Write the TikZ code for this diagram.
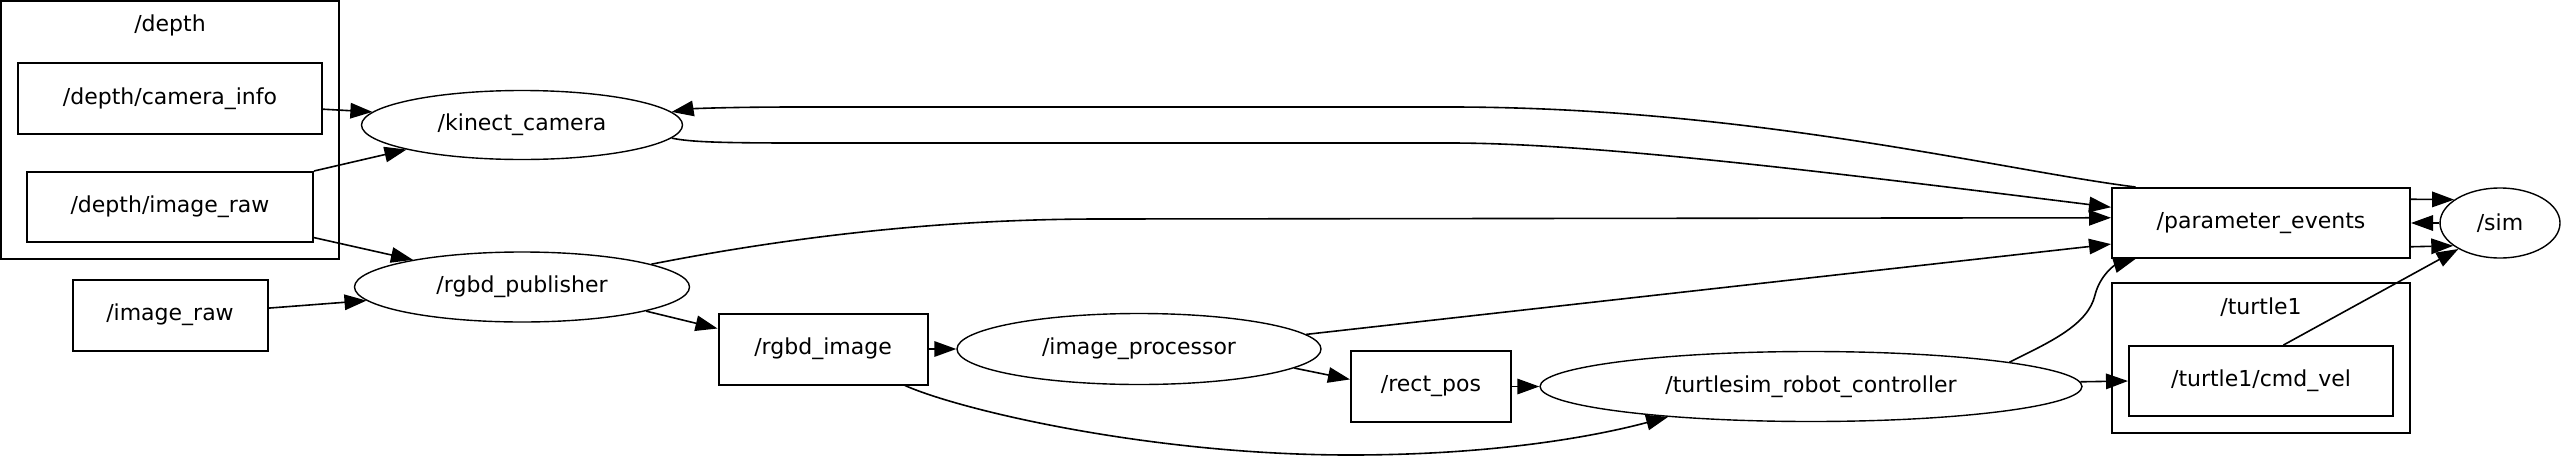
\documentclass[tikz,border=0pt]{standalone}
\usepackage{fontspec}
\setmainfont{DejaVu Sans}
\usetikzlibrary{arrows.meta,shapes.geometric}

\tikzset{
    topicbox/.style={draw, rectangle, line width=2pt, inner sep=0pt},
    rosnode/.style={draw, ellipse, line width=1.4pt, inner sep=0pt},
    cluster/.style={draw, rectangle, line width=2pt, inner sep=0pt},
    link/.style={line width=1.6pt, arrows={-Triangle[length=22pt,width=15.5pt]}},
}

\begin{document}
\begin{tikzpicture}[x=1pt,y=-1pt,font=\fontsize{22}{26}\selectfont]
                    \useasboundingbox (0,0) rectangle (2562,464);
%                    groups
                    \node[cluster, minimum width=338pt, minimum height=258pt] (depth) at (170,130) {};
                    \node (depthlbl) at (170,25) {/depth};
                    \node[cluster, minimum width=298pt, minimum height=150pt] (turtle) at (2261,358) {};
                    \node (turtlelbl) at (2261,307) {/turtle1};

%                    topics
                    \node[topicbox, minimum width=304pt, minimum height=71pt] (caminfo) at (170,98.5) {/depth/camera\_info};
                    \node[topicbox, minimum width=286pt, minimum height=70pt] (dimg) at (170,207) {/depth/image\_raw};
                    \node[topicbox, minimum width=195pt, minimum height=71pt] (iraw) at (170,315) {/image\_raw};
                    \node[topicbox, minimum width=209pt, minimum height=71pt] (rimg) at (823,349) {/rgbd\_image};
                    \node[topicbox, minimum width=160pt, minimum height=71pt] (rpos) at (1431,386.5) {/rect\_pos};
                    \node[topicbox, minimum width=298pt, minimum height=70pt] (pe) at (2261,223) {/parameter\_events};
                    \node[topicbox, minimum width=264pt, minimum height=70pt] (cmd) at (2261,381) {/turtle1/cmd\_vel};

%                    nodes
                    \node[rosnode, minimum width=321pt, minimum height=69pt] (kc) at (522,125) {/kinect\_camera};
                    \node[rosnode, minimum width=335pt, minimum height=70pt] (rp) at (522,287) {/rgbd\_publisher};
                    \node[rosnode, minimum width=364pt, minimum height=71pt] (ip) at (1139,349) {/image\_processor};
                    \node[rosnode, minimum width=542pt, minimum height=70pt] (ts) at (1811,386.5) {/turtlesim\_robot\_controller};
                    \node[rosnode, minimum width=120pt, minimum height=70pt] (sim) at (2500,223) {/sim};

%                    left side
                    \draw[link] (caminfo.-4) -- (kc.175);
                    \draw[link] (dimg.north east) -- (kc.-168.4);
                    \draw[link] (dimg.-12.6) -- (rp.166.9);
                    \draw[link] (iraw.4.7) -- (rp.-175.6);
                    \draw[link] (rp.-11.7) -- (rimg.169.7);
                    \draw[link] (rimg.east) -- (ip.west);
                    \draw[link] (ip.-7.1) -- (rpos.175.7);
                    \draw[link] (rpos.east) -- (ts.west);
                    \draw[link] (rimg.-24.75) .. controls (960,410) and (1150,455) .. (1350,455)
                        .. controls (1500,455) and (1600,435) .. (ts.-168.2);

%                    long ones
                    \draw[link] (pe.164.2) .. controls (2000,170) and (1750,107) .. (1450,107) -- (800,107)
                        .. controls (720,107) and (690,109) .. (kc.5);
                    \draw[link] (kc.-5) .. controls (690,142) and (720,143) .. (800,143) -- (1450,143)
                        .. controls (1600,143) and (1850,175) .. (pe.174.25);
                    \draw[link] (rp.10.5) .. controls (800,235) and (950,219) .. (1100,219) -- (pe.178.8);
                    \draw[link] (ip.5.9) -- (pe.-172.4);
                    \draw[link] (ts.7.43) .. controls (2050,342) and (2088,325) .. (2095,295)
                        .. controls (2100,275) and (2115,265) .. (pe.-164.65);

%                    right side
                    \draw[link] (ts.1) -- (cmd.west);
                    \draw[link] (pe.9.9) -- (sim.153.9);
                    \draw[link] (sim.west) -- (pe.east);
                    \draw[link] (pe.-9.5) -- (sim.-154.7);
                    \draw[link] (cmd.58) -- (sim.-148.6);
\end{tikzpicture}
\end{document}
